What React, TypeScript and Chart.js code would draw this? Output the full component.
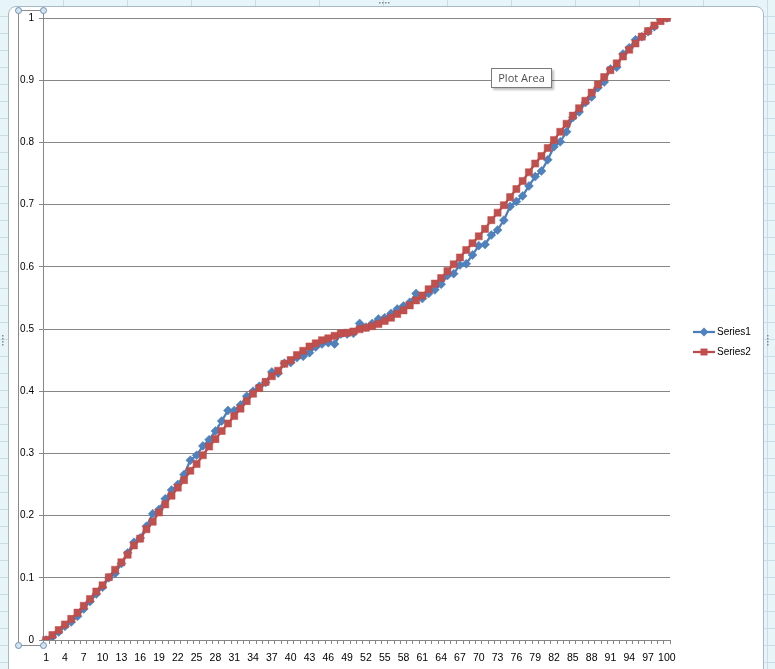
import React, { useEffect, useRef } from "react";
import { Chart, registerables } from "chart.js";

Chart.register(...registerables);

const categories = [
  1, 2, 3, 4, 5, 6, 7, 8, 9, 10, 11, 12, 13, 14, 15, 16, 17, 18, 19, 20,
  21, 22, 23, 24, 25, 26, 27, 28, 29, 30, 31, 32, 33, 34, 35, 36, 37, 38, 39, 40,
  41, 42, 43, 44, 45, 46, 47, 48, 49, 50, 51, 52, 53, 54, 55, 56, 57, 58, 59, 60,
  61, 62, 63, 64, 65, 66, 67, 68, 69, 70, 71, 72, 73, 74, 75, 76, 77, 78, 79, 80,
  81, 82, 83, 84, 85, 86, 87, 88, 89, 90, 91, 92, 93, 94, 95, 96, 97, 98, 99, 100,
];

const series1 = [
  0, 0.005, 0.013, 0.022, 0.029, 0.038, 0.05, 0.062, 0.074, 0.085,
  0.1, 0.107, 0.123, 0.14, 0.157, 0.164, 0.183, 0.203, 0.21, 0.227,
  0.241, 0.25, 0.266, 0.289, 0.297, 0.312, 0.322, 0.336, 0.352, 0.369,
  0.369, 0.378, 0.392, 0.4, 0.408, 0.414, 0.431, 0.429, 0.445, 0.446,
  0.454, 0.456, 0.462, 0.471, 0.476, 0.478, 0.476, 0.492, 0.492, 0.493,
  0.509, 0.503, 0.509, 0.516, 0.518, 0.525, 0.532, 0.537, 0.543, 0.557,
  0.549, 0.557, 0.563, 0.572, 0.586, 0.589, 0.603, 0.605, 0.619, 0.634,
  0.636, 0.651, 0.659, 0.675, 0.697, 0.705, 0.714, 0.73, 0.745, 0.754,
  0.772, 0.793, 0.801, 0.817, 0.84, 0.849, 0.864, 0.873, 0.888, 0.897,
  0.918, 0.921, 0.942, 0.952, 0.965, 0.97, 0.978, 0.986, 0.997, 1.0,
];

const series2 = [
  0, 0.008, 0.016, 0.025, 0.034, 0.044, 0.055, 0.066, 0.078, 0.088,
  0.101, 0.113, 0.125, 0.137, 0.152, 0.163, 0.178, 0.19, 0.205, 0.218,
  0.232, 0.245, 0.257, 0.272, 0.283, 0.297, 0.311, 0.323, 0.336, 0.348,
  0.36, 0.372, 0.384, 0.396, 0.405, 0.415, 0.424, 0.433, 0.444, 0.45,
  0.458, 0.465, 0.472, 0.477, 0.482, 0.485, 0.489, 0.493, 0.494, 0.496,
  0.4995, 0.502, 0.5045, 0.508, 0.513, 0.518, 0.524, 0.53, 0.538, 0.546,
  0.554, 0.564, 0.573, 0.582, 0.593, 0.604, 0.615, 0.627, 0.638, 0.649,
  0.661, 0.675, 0.687, 0.699, 0.712, 0.725, 0.738, 0.752, 0.766, 0.778,
  0.791, 0.804, 0.817, 0.83, 0.843, 0.855, 0.867, 0.88, 0.893, 0.905,
  0.916, 0.927, 0.938, 0.949, 0.959, 0.97, 0.979, 0.988, 0.995, 1.0,
];

const seriesNames = ["Series1", "Series2"];
const yTicks = [0, 0.1, 0.2, 0.3, 0.4, 0.5, 0.6, 0.7, 0.8, 0.9, 1];

const BLUE_LINE = "#4a7ebb";
const BLUE_FILL = "#4f81bd";
const RED_LINE = "#be4b48";
const RED_FILL = "#c0504d";
const AXIS = "#868686";
const FONT = "'Liberation Sans', Arial, sans-serif";

const extrasPlugin = {
  id: "excelExtras",
  afterDraw(chart: any) {
    const ctx = chart.ctx as CanvasRenderingContext2D;
    const area = chart.chartArea;
    ctx.save();
    const items = [
      { name: seriesNames[0], line: BLUE_LINE, fill: BLUE_FILL, shape: "diamond", y: 332 },
      { name: seriesNames[1], line: RED_LINE, fill: RED_FILL, shape: "square", y: 352 },
    ];
    for (const it of items) {
      ctx.strokeStyle = it.line;
      ctx.lineWidth = 2.25;
      ctx.beginPath();
      ctx.moveTo(693, it.y);
      ctx.lineTo(715, it.y);
      ctx.stroke();
      ctx.fillStyle = it.fill;
      ctx.beginPath();
      if (it.shape === "diamond") {
        ctx.moveTo(704, it.y - 4.5);
        ctx.lineTo(708.5, it.y);
        ctx.lineTo(704, it.y + 4.5);
        ctx.lineTo(699.5, it.y);
        ctx.closePath();
      } else {
        ctx.rect(700.5, it.y - 3.5, 7, 7);
      }
      ctx.fill();
      ctx.fillStyle = "#000";
      ctx.font = "10px " + FONT;
      ctx.textBaseline = "middle";
      ctx.textAlign = "left";
      ctx.fillText(it.name, 717, it.y + 0.5);
    }
    const L = 18.5;
    const R = Math.round(area.left) + 0.5;
    const T = 10.5;
    const B = 645.5;
    ctx.strokeStyle = "#8a8a8a";
    ctx.lineWidth = 1;
    ctx.beginPath();
    ctx.moveTo(L, T);
    ctx.lineTo(L, B);
    ctx.moveTo(L, T);
    ctx.lineTo(R, T);
    ctx.moveTo(L, B);
    ctx.lineTo(R, B);
    ctx.moveTo(R, T);
    ctx.lineTo(R, area.top);
    ctx.moveTo(R, area.bottom);
    ctx.lineTo(R, B);
    ctx.stroke();
    const handles = [
      [L, T],
      [R, T],
      [L, B],
      [R, B],
    ];
    for (const [hx, hy] of handles) {
      ctx.beginPath();
      ctx.arc(hx, hy, 3, 0, Math.PI * 2);
      ctx.fillStyle = "#d3e3f1";
      ctx.fill();
      ctx.strokeStyle = "#6f8fb3";
      ctx.stroke();
    }
    ctx.fillStyle = "#7d8a96";
    for (let i = 0; i < 4; i++) {
      ctx.fillRect(379 + i * 3, 2, 1.5, 1.5);
      ctx.fillRect(2, 335 + i * 3, 1.5, 1.5);
      ctx.fillRect(767, 335 + i * 3, 1.5, 1.5);
    }
    ctx.restore();
  },
};

export default function App() {
  const canvasRef = useRef<HTMLCanvasElement | null>(null);

  useEffect(() => {
    const canvas = canvasRef.current;
    if (!canvas) return;
    const chart = new Chart(canvas, {
      type: "line",
      data: {
        labels: categories.map(String),
        datasets: [
          {
            label: seriesNames[0],
            data: series1,
            borderColor: BLUE_LINE,
            backgroundColor: BLUE_FILL,
            borderWidth: 2.25,
            pointStyle: "rectRot",
            pointRadius: 4.5,
            pointBorderWidth: 0.5,
            pointBorderColor: BLUE_LINE,
            pointBackgroundColor: BLUE_FILL,
            tension: 0,
            order: 1,
          },
          {
            label: seriesNames[1],
            data: series2,
            borderColor: RED_LINE,
            backgroundColor: RED_FILL,
            borderWidth: 2.25,
            pointStyle: "rect",
            pointRadius: 5,
            pointBorderWidth: 0.5,
            pointBorderColor: RED_LINE,
            pointBackgroundColor: RED_FILL,
            tension: 0,
            order: 0,
          },
        ],
      },
      options: {
        responsive: false,
        animation: false,
        events: [],
        layout: { padding: { left: 0, top: 18, right: 105, bottom: 0 } },
        plugins: {
          legend: { display: false },
          tooltip: { enabled: false },
          title: { display: false },
        },
        scales: {
          x: {
            type: "category",
            offset: true,
            afterFit: (s: any) => {
              s.height = 29;
            },
            grid: {
              offset: true,
              drawOnChartArea: false,
              drawTicks: true,
              tickLength: 4,
              color: AXIS,
            },
            border: { display: true, color: AXIS, width: 1 },
            ticks: {
              autoSkip: false,
              maxRotation: 0,
              minRotation: 0,
              padding: 8,
              color: "#000",
              font: { family: FONT, size: 10.5 },
              callback: (_v: any, index: number) =>
                index % 3 === 0 ? String(categories[index]) : "",
            },
          },
          y: {
            min: 0,
            max: 1,
            afterFit: (s: any) => {
              s.width = 43;
            },
            afterBuildTicks: (s: any) => {
              s.ticks = yTicks.map((v) => ({ value: v }));
            },
            grid: {
              color: AXIS,
              lineWidth: 1,
              tickLength: 4,
            },
            border: { display: true, color: AXIS, width: 1 },
            ticks: {
              padding: 5,
              color: "#000",
              font: { family: FONT, size: 10 },
              callback: (v: any) => String(Number(Number(v).toFixed(1))),
            },
          },
        },
      },
      plugins: [extrasPlugin],
    });
    return () => chart.destroy();
  }, []);

  return (
    <div
      style={{
        position: "absolute",
        left: 0,
        top: 0,
        width: 775,
        height: 669,
        overflow: "hidden",
        backgroundColor: "#e7f4f8",
        backgroundImage:
          "repeating-linear-gradient(to bottom, transparent 0px, transparent 16px, #c8dde4 16px, #c8dde4 17px), repeating-linear-gradient(to right, transparent 0px, transparent 63px, #c8dde4 63px, #c8dde4 64px)",
      }}
    >
      <div
        style={{
          position: "absolute",
          left: 8,
          top: 6,
          width: 756,
          height: 680,
          background: "#ffffff",
          border: "1px solid #a7b9c9",
          borderRadius: 8,
          boxSizing: "border-box",
        }}
      />
      <canvas
        ref={canvasRef}
        width={775}
        height={669}
        style={{ position: "absolute", left: 0, top: 0, width: 775, height: 669 }}
      />
      <div
        style={{
          position: "absolute",
          left: 491,
          top: 68,
          width: 61,
          height: 20,
          boxSizing: "border-box",
          background: "#fff",
          border: "1px solid #7a7a7a",
          boxShadow: "2px 2px 2px rgba(0,0,0,0.25)",
          font: "11px 'Open Sans', 'Noto Sans', sans-serif",
          color: "#505050",
          lineHeight: "18px",
          textAlign: "center",
          whiteSpace: "nowrap",
        }}
      >
        Plot Area
      </div>
    </div>
  );
}
